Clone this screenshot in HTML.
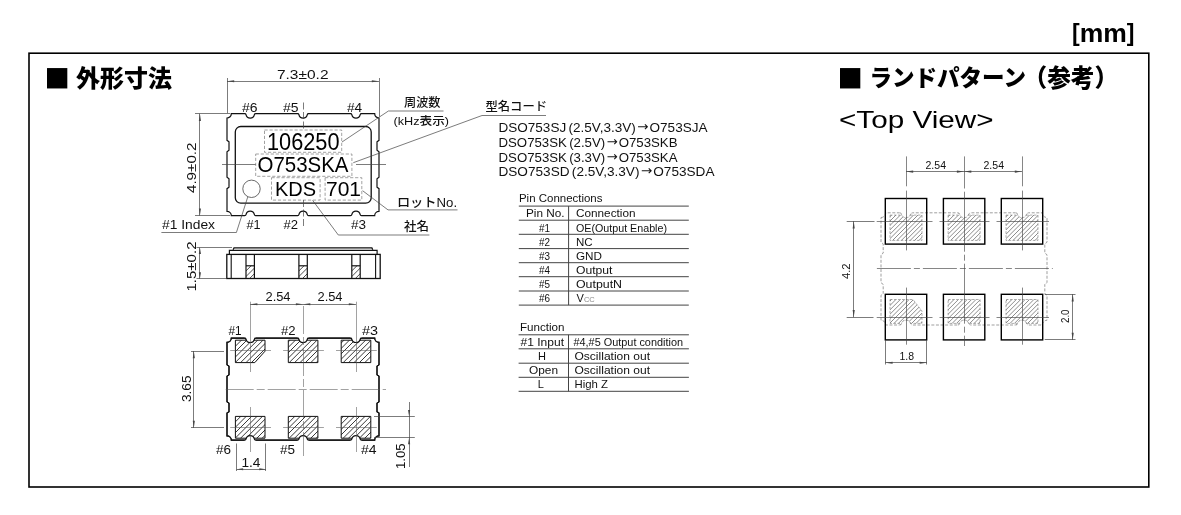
<!DOCTYPE html>
<html lang="ja">
<head>
<meta charset="utf-8">
<title>DSO753 外形寸法 / ランドパターン</title>
<style>
html,body{margin:0;padding:0;background:#fff;}
body{width:1181px;height:515px;overflow:hidden;}
svg{display:block;will-change:transform;font-family:"Liberation Sans","Noto Sans CJK JP",sans-serif;}
text{white-space:pre;}
</style>
</head>
<body>
<svg width="1181" height="515" viewBox="0 0 1181 515">
<defs><clipPath id="cp0"><path d="M246.00,265.8 H254.40 V278.5 H246.00 Z"/></clipPath><clipPath id="cp1"><path d="M298.90,265.8 H307.30 V278.5 H298.90 Z"/></clipPath><clipPath id="cp2"><path d="M351.80,265.8 H360.20 V278.5 H351.80 Z"/></clipPath><clipPath id="cp3"><path d="M235.4,340.2 L265.0,340.2 L265.0,351.20 L254.80,362.6 L235.4,362.6 Z"/></clipPath><clipPath id="cp4"><path d="M235.4,416.4 L265.0,416.4 L265.0,438.2 L235.4,438.2 Z"/></clipPath><clipPath id="cp5"><path d="M288.3,340.2 L317.9,340.2 L317.9,362.6 L288.3,362.6 Z"/></clipPath><clipPath id="cp6"><path d="M288.3,416.4 L317.9,416.4 L317.9,438.2 L288.3,438.2 Z"/></clipPath><clipPath id="cp7"><path d="M341.2,340.2 L370.8,340.2 L370.8,362.6 L341.2,362.6 Z"/></clipPath><clipPath id="cp8"><path d="M341.2,416.4 L370.8,416.4 L370.8,438.2 L341.2,438.2 Z"/></clipPath><clipPath id="cp9"><path d="M890.00,215.10 L922.00,215.10 L922.00,240.40 L890.00,240.40 Z"/></clipPath><clipPath id="cp10"><path d="M890.00,299.50 L913.00,299.50 L922.00,311.00 L922.00,323.40 L890.00,323.40 Z"/></clipPath><clipPath id="cp11"><path d="M948.11,215.10 L980.10,215.10 L980.10,240.40 L948.11,240.40 Z"/></clipPath><clipPath id="cp12"><path d="M948.11,299.50 L980.10,299.50 L980.10,323.40 L948.11,323.40 Z"/></clipPath><clipPath id="cp13"><path d="M1006.00,215.10 L1037.99,215.10 L1037.99,240.40 L1006.00,240.40 Z"/></clipPath><clipPath id="cp14"><path d="M1006.00,299.50 L1037.99,299.50 L1037.99,323.40 L1006.00,323.40 Z"/></clipPath></defs>
<rect x="0" y="0" width="1181" height="515" fill="#fff"/>
<rect x="29" y="53.2" width="1119.8" height="433.8" fill="none" stroke="#000" stroke-width="1.6"/>
<text id="t0" x="1071.95" y="42.20" font-size="26.5" textLength="62.57" lengthAdjust="spacingAndGlyphs" font-weight="bold" fill="#000"><tspan font-size="23.1" dy="-0.8">[</tspan><tspan font-size="26.5" dy="0.8">mm</tspan><tspan font-size="23.1" dy="-0.8">]</tspan></text>
<text id="t1" x="44.53" y="90.70" font-size="42.2" textLength="25.33" lengthAdjust="spacingAndGlyphs" fill="#000">■</text>
<text id="t2" x="76.00" y="86.80" font-size="24" textLength="96.01" lengthAdjust="spacingAndGlyphs" font-weight="900" fill="#000">外形寸法</text>
<text id="t3" x="837.53" y="90.70" font-size="42.2" textLength="25.33" lengthAdjust="spacingAndGlyphs" fill="#000">■</text>
<text id="t4" x="869.45" y="86.30" font-size="23" textLength="156.57" lengthAdjust="spacingAndGlyphs" font-weight="900" fill="#000">ランドパターン</text>
<text id="t5" x="1023.56" y="86.80" font-size="24.5" textLength="94.54" lengthAdjust="spacingAndGlyphs" font-weight="900" fill="#000">（参考）</text>
<text id="t6" x="838.98" y="128.20" font-size="24.5" textLength="154.54" lengthAdjust="spacingAndGlyphs" fill="#000">&lt;Top View&gt;</text>
<path d="M227.00,118.00 A4.30,4.30 0 0 0 231.30,113.70 L244.70,113.70 Q245.80,113.70 246.00,114.70 A4.29,4.29 0 0 0 254.40,114.70 Q254.60,113.70 255.70,113.70 L297.60,113.70 Q298.70,113.70 298.90,114.70 A4.29,4.29 0 0 0 307.30,114.70 Q307.50,113.70 308.60,113.70 L350.50,113.70 Q351.60,113.70 351.80,114.70 A4.29,4.29 0 0 0 360.20,114.70 Q360.40,113.70 361.50,113.70 L374.70,113.70 A4.30,4.30 0 0 0 379.00,118.00 L379.00,140.35 L377.00,141.85 L377.00,150.25 L379.00,151.75 L379.00,177.25 L377.00,178.75 L377.00,187.15 L379.00,188.65 L379.00,211.30 A4.30,4.30 0 0 0 374.70,215.60 L361.50,215.60 Q360.40,215.60 360.20,214.60 A4.29,4.29 0 0 0 351.80,214.60 Q351.60,215.60 350.50,215.60 L308.60,215.60 Q307.50,215.60 307.30,214.60 A4.29,4.29 0 0 0 298.90,214.60 Q298.70,215.60 297.60,215.60 L255.70,215.60 Q254.60,215.60 254.40,214.60 A4.29,4.29 0 0 0 246.00,214.60 Q245.80,215.60 244.70,215.60 L231.30,215.60 A4.30,4.30 0 0 0 227.00,211.30 L227.00,188.65 L229.00,187.15 L229.00,178.75 L227.00,177.25 L227.00,151.75 L229.00,150.25 L229.00,141.85 L227.00,140.35 Z" fill="none" stroke="#111" stroke-width="1.2"/>
<rect x="235.3" y="126.5" width="135.9" height="76.7" rx="5.5" ry="5.5" fill="none" stroke="#111" stroke-width="1.3"/>
<circle cx="251.5" cy="188.8" r="8.7" fill="none" stroke="#444" stroke-width="0.8"/>
<rect x="264.5" y="130" width="77.20" height="22.30" fill="none" stroke="#8a8a8a" stroke-width="0.8" stroke-dasharray="3.2 1.8"/>
<rect x="255.7" y="154" width="96.20" height="22.30" fill="none" stroke="#8a8a8a" stroke-width="0.8" stroke-dasharray="3.2 1.8"/>
<rect x="271.5" y="177.7" width="48.60" height="22.40" fill="none" stroke="#8a8a8a" stroke-width="0.8" stroke-dasharray="3.2 1.8"/>
<rect x="325.1" y="177.7" width="36.70" height="22.40" fill="none" stroke="#8a8a8a" stroke-width="0.8" stroke-dasharray="3.2 1.8"/>
<text id="t7" x="266.95" y="149.80" font-size="23.3" textLength="72.58" lengthAdjust="spacingAndGlyphs" fill="#000">106250</text>
<text id="t8" x="257.49" y="172.40" font-size="22" textLength="91.02" lengthAdjust="spacingAndGlyphs" fill="#000">O753SKA</text>
<text id="t9" x="274.95" y="196.20" font-size="20.5" textLength="41.11" lengthAdjust="spacingAndGlyphs" fill="#000">KDS</text>
<text id="t10" x="325.96" y="196.20" font-size="20.5" textLength="35.08" lengthAdjust="spacingAndGlyphs" fill="#000">701</text>
<line x1="222.00" y1="164.50" x2="255.70" y2="164.50" stroke="#444" stroke-width="0.7"/>
<line x1="356.00" y1="164.50" x2="386.00" y2="164.50" stroke="#444" stroke-width="0.7"/>
<line x1="303.50" y1="102.50" x2="303.50" y2="130.00" stroke="#444" stroke-width="0.7" stroke-dasharray="7 2.5"/>
<line x1="303.50" y1="200.00" x2="303.50" y2="228.50" stroke="#444" stroke-width="0.7" stroke-dasharray="7 2.5"/>
<text id="t11" x="241.96" y="111.60" font-size="12.4" textLength="15.58" lengthAdjust="spacingAndGlyphs" fill="#111">#6</text>
<text id="t12" x="282.97" y="111.60" font-size="12.4" textLength="15.53" lengthAdjust="spacingAndGlyphs" fill="#111">#5</text>
<text id="t13" x="346.91" y="111.60" font-size="12.4" textLength="15.18" lengthAdjust="spacingAndGlyphs" fill="#111">#4</text>
<text id="t14" x="246.43" y="229.00" font-size="12.4" textLength="14.14" lengthAdjust="spacingAndGlyphs" fill="#111">#1</text>
<text id="t15" x="283.50" y="229.00" font-size="12.4" textLength="14.58" lengthAdjust="spacingAndGlyphs" fill="#111">#2</text>
<text id="t16" x="350.97" y="229.00" font-size="12.4" textLength="15.04" lengthAdjust="spacingAndGlyphs" fill="#111">#3</text>
<line x1="227.50" y1="78.00" x2="227.50" y2="113.20" stroke="#444" stroke-width="0.7"/>
<line x1="379.50" y1="78.00" x2="379.50" y2="116.70" stroke="#444" stroke-width="0.7"/>
<line x1="227.00" y1="81.50" x2="379.00" y2="81.50" stroke="#444" stroke-width="0.7"/>
<polygon points="227.00,81.30 234.20,80.25 234.20,82.35" fill="#444"/>
<polygon points="379.00,81.30 371.80,82.35 371.80,80.25" fill="#444"/>
<text id="t17" x="276.98" y="78.70" font-size="12.5" textLength="51.54" lengthAdjust="spacingAndGlyphs" fill="#111">7.3±0.2</text>
<line x1="195.00" y1="113.50" x2="230.00" y2="113.50" stroke="#444" stroke-width="0.7"/>
<line x1="195.00" y1="215.50" x2="230.00" y2="215.50" stroke="#444" stroke-width="0.7"/>
<line x1="199.50" y1="113.70" x2="199.50" y2="215.60" stroke="#444" stroke-width="0.7"/>
<polygon points="199.90,113.70 200.95,120.90 198.85,120.90" fill="#444"/>
<polygon points="199.90,215.60 198.85,208.40 200.95,208.40" fill="#444"/>
<text id="t18" x="196.40" y="193.02" font-size="12.5" textLength="50.53" lengthAdjust="spacingAndGlyphs" transform="rotate(-90 196.40 193.02)" fill="#111">4.9±0.2</text>
<polyline points="342.00,142.00 388.40,111.00 443.50,111.00" fill="none" stroke="#444" stroke-width="0.7"/>
<polyline points="353.30,162.70 482.00,115.50 546.00,115.50" fill="none" stroke="#444" stroke-width="0.7"/>
<polyline points="362.60,190.70 388.00,209.90 457.50,209.90" fill="none" stroke="#444" stroke-width="0.7"/>
<polyline points="312.60,200.30 338.30,235.00 429.40,235.00" fill="none" stroke="#444" stroke-width="0.7"/>
<polyline points="247.80,196.80 236.40,232.50 161.40,232.50" fill="none" stroke="#444" stroke-width="0.7"/>
<text id="t19" x="403.98" y="107.20" font-size="12.5" textLength="36.54" lengthAdjust="spacingAndGlyphs" font-weight="500" fill="#111">周波数</text>
<text id="t20" x="393.47" y="124.60" font-size="11.5" textLength="55.57" lengthAdjust="spacingAndGlyphs" font-weight="500" fill="#111">(kHz表示)</text>
<text id="t21" x="485.49" y="111.00" font-size="12" textLength="61.56" lengthAdjust="spacingAndGlyphs" font-weight="500" fill="#111">型名コード</text>
<text id="t22" x="396.93" y="207.00" font-size="12.5" textLength="60.13" lengthAdjust="spacingAndGlyphs" font-weight="500" fill="#111">ロットNo.</text>
<text id="t23" x="404.00" y="231.00" font-size="12.5" textLength="25.04" lengthAdjust="spacingAndGlyphs" font-weight="500" fill="#111">社名</text>
<text id="t24" x="162.00" y="229.00" font-size="12.4" textLength="53.01" lengthAdjust="spacingAndGlyphs" fill="#111">#1 Index</text>
<path d="M233.1,249.8 L234.0,247.9 L371.9,247.9 L372.8,249.8" fill="none" stroke="#111" stroke-width="1.25"/>
<path d="M229.4,254.4 L229.4,250.3 L377.1,250.3 L377.1,254.4" fill="none" stroke="#111" stroke-width="1.2"/>
<rect x="226.8" y="254.4" width="153.4" height="24.1" fill="none" stroke="#111" stroke-width="1.3"/>
<line x1="231.20" y1="254.40" x2="231.20" y2="278.50" stroke="#111" stroke-width="1.1"/>
<line x1="375.60" y1="254.40" x2="375.60" y2="278.50" stroke="#111" stroke-width="1.1"/>
<path clip-path="url(#cp0)" d="M237.40,279.50 L252.10,264.80 M243.00,279.50 L257.70,264.80 M248.60,279.50 L263.30,264.80" fill="none" stroke="#222" stroke-width="0.8"/>
<line x1="246.00" y1="254.40" x2="246.00" y2="278.50" stroke="#111" stroke-width="1.2"/>
<line x1="254.40" y1="254.40" x2="254.40" y2="278.50" stroke="#111" stroke-width="1.2"/>
<line x1="246.00" y1="265.80" x2="254.40" y2="265.80" stroke="#111" stroke-width="1.2"/>
<path clip-path="url(#cp1)" d="M290.30,279.50 L305.00,264.80 M295.90,279.50 L310.60,264.80 M301.50,279.50 L316.20,264.80" fill="none" stroke="#222" stroke-width="0.8"/>
<line x1="298.90" y1="254.40" x2="298.90" y2="278.50" stroke="#111" stroke-width="1.2"/>
<line x1="307.30" y1="254.40" x2="307.30" y2="278.50" stroke="#111" stroke-width="1.2"/>
<line x1="298.90" y1="265.80" x2="307.30" y2="265.80" stroke="#111" stroke-width="1.2"/>
<path clip-path="url(#cp2)" d="M343.20,279.50 L357.90,264.80 M348.80,279.50 L363.50,264.80 M354.40,279.50 L369.10,264.80" fill="none" stroke="#222" stroke-width="0.8"/>
<line x1="351.80" y1="254.40" x2="351.80" y2="278.50" stroke="#111" stroke-width="1.2"/>
<line x1="360.20" y1="254.40" x2="360.20" y2="278.50" stroke="#111" stroke-width="1.2"/>
<line x1="351.80" y1="265.80" x2="360.20" y2="265.80" stroke="#111" stroke-width="1.2"/>
<line x1="196.50" y1="247.50" x2="232.00" y2="247.50" stroke="#444" stroke-width="0.7"/>
<line x1="196.50" y1="278.50" x2="226.00" y2="278.50" stroke="#444" stroke-width="0.7"/>
<line x1="199.50" y1="247.60" x2="199.50" y2="278.80" stroke="#444" stroke-width="0.7"/>
<polygon points="199.90,247.60 200.95,254.10 198.85,254.10" fill="#444"/>
<polygon points="199.90,278.80 198.85,272.30 200.95,272.30" fill="#444"/>
<text id="t25" x="196.40" y="291.54" font-size="12.5" textLength="50.06" lengthAdjust="spacingAndGlyphs" transform="rotate(-90 196.40 291.54)" fill="#111">1.5±0.2</text>
<path d="M227.00,342.40 A4.30,4.30 0 0 0 231.30,338.10 L244.70,338.10 Q245.80,338.10 246.00,339.10 A4.29,4.29 0 0 0 254.40,339.10 Q254.60,338.10 255.70,338.10 L297.60,338.10 Q298.70,338.10 298.90,339.10 A4.29,4.29 0 0 0 307.30,339.10 Q307.50,338.10 308.60,338.10 L350.50,338.10 Q351.60,338.10 351.80,339.10 A4.29,4.29 0 0 0 360.20,339.10 Q360.40,338.10 361.50,338.10 L374.70,338.10 A4.30,4.30 0 0 0 379.00,342.40 L379.00,364.80 L377.00,366.30 L377.00,374.70 L379.00,376.20 L379.00,401.70 L377.00,403.20 L377.00,411.60 L379.00,413.10 L379.00,435.80 A4.30,4.30 0 0 0 374.70,440.10 L361.50,440.10 Q360.40,440.10 360.20,439.10 A4.29,4.29 0 0 0 351.80,439.10 Q351.60,440.10 350.50,440.10 L308.60,440.10 Q307.50,440.10 307.30,439.10 A4.29,4.29 0 0 0 298.90,439.10 Q298.70,440.10 297.60,440.10 L255.70,440.10 Q254.60,440.10 254.40,439.10 A4.29,4.29 0 0 0 246.00,439.10 Q245.80,440.10 244.70,440.10 L231.30,440.10 A4.30,4.30 0 0 0 227.00,435.80 L227.00,413.10 L229.00,411.60 L229.00,403.20 L227.00,401.70 L227.00,376.20 L229.00,374.70 L229.00,366.30 L227.00,364.80 Z" fill="none" stroke="#111" stroke-width="1.15"/>
<path d="M235.4,340.2 L265.0,340.2 L265.0,351.20 L254.80,362.6 L235.4,362.6 Z" fill="#fff" stroke="none"/>
<path clip-path="url(#cp3)" d="M212.60,363.60 L237.00,339.20 M218.00,363.60 L242.40,339.20 M223.40,363.60 L247.80,339.20 M228.80,363.60 L253.20,339.20 M234.20,363.60 L258.60,339.20 M239.60,363.60 L264.00,339.20 M245.00,363.60 L269.40,339.20 M250.40,363.60 L274.80,339.20 M255.80,363.60 L280.20,339.20 M261.20,363.60 L285.60,339.20" fill="none" stroke="#222" stroke-width="0.9"/>
<path d="M235.4,340.2 L265.0,340.2 L265.0,351.20 L254.80,362.6 L235.4,362.6 Z" fill="none" stroke="#111" stroke-width="1.0"/>
<path d="M235.4,416.4 L265.0,416.4 L265.0,438.2 L235.4,438.2 Z" fill="#fff" stroke="none"/>
<path clip-path="url(#cp4)" d="M212.60,439.20 L236.40,415.40 M218.00,439.20 L241.80,415.40 M223.40,439.20 L247.20,415.40 M228.80,439.20 L252.60,415.40 M234.20,439.20 L258.00,415.40 M239.60,439.20 L263.40,415.40 M245.00,439.20 L268.80,415.40 M250.40,439.20 L274.20,415.40 M255.80,439.20 L279.60,415.40 M261.20,439.20 L285.00,415.40" fill="none" stroke="#222" stroke-width="0.9"/>
<path d="M235.4,416.4 L265.0,416.4 L265.0,438.2 L235.4,438.2 Z" fill="none" stroke="#111" stroke-width="1.0"/>
<path d="M288.3,340.2 L317.9,340.2 L317.9,362.6 L288.3,362.6 Z" fill="#fff" stroke="none"/>
<path clip-path="url(#cp5)" d="M266.60,363.60 L291.00,339.20 M272.00,363.60 L296.40,339.20 M277.40,363.60 L301.80,339.20 M282.80,363.60 L307.20,339.20 M288.20,363.60 L312.60,339.20 M293.60,363.60 L318.00,339.20 M299.00,363.60 L323.40,339.20 M304.40,363.60 L328.80,339.20 M309.80,363.60 L334.20,339.20 M315.20,363.60 L339.60,339.20" fill="none" stroke="#222" stroke-width="0.9"/>
<path d="M288.3,340.2 L317.9,340.2 L317.9,362.6 L288.3,362.6 Z" fill="none" stroke="#111" stroke-width="1.0"/>
<path d="M288.3,416.4 L317.9,416.4 L317.9,438.2 L288.3,438.2 Z" fill="#fff" stroke="none"/>
<path clip-path="url(#cp6)" d="M266.60,439.20 L290.40,415.40 M272.00,439.20 L295.80,415.40 M277.40,439.20 L301.20,415.40 M282.80,439.20 L306.60,415.40 M288.20,439.20 L312.00,415.40 M293.60,439.20 L317.40,415.40 M299.00,439.20 L322.80,415.40 M304.40,439.20 L328.20,415.40 M309.80,439.20 L333.60,415.40 M315.20,439.20 L339.00,415.40" fill="none" stroke="#222" stroke-width="0.9"/>
<path d="M288.3,416.4 L317.9,416.4 L317.9,438.2 L288.3,438.2 Z" fill="none" stroke="#111" stroke-width="1.0"/>
<path d="M341.2,340.2 L370.8,340.2 L370.8,362.6 L341.2,362.6 Z" fill="#fff" stroke="none"/>
<path clip-path="url(#cp7)" d="M320.60,363.60 L345.00,339.20 M326.00,363.60 L350.40,339.20 M331.40,363.60 L355.80,339.20 M336.80,363.60 L361.20,339.20 M342.20,363.60 L366.60,339.20 M347.60,363.60 L372.00,339.20 M353.00,363.60 L377.40,339.20 M358.40,363.60 L382.80,339.20 M363.80,363.60 L388.20,339.20 M369.20,363.60 L393.60,339.20" fill="none" stroke="#222" stroke-width="0.9"/>
<path d="M341.2,340.2 L370.8,340.2 L370.8,362.6 L341.2,362.6 Z" fill="none" stroke="#111" stroke-width="1.0"/>
<path d="M341.2,416.4 L370.8,416.4 L370.8,438.2 L341.2,438.2 Z" fill="#fff" stroke="none"/>
<path clip-path="url(#cp8)" d="M320.60,439.20 L344.40,415.40 M326.00,439.20 L349.80,415.40 M331.40,439.20 L355.20,415.40 M336.80,439.20 L360.60,415.40 M342.20,439.20 L366.00,415.40 M347.60,439.20 L371.40,415.40 M353.00,439.20 L376.80,415.40 M358.40,439.20 L382.20,415.40 M363.80,439.20 L387.60,415.40 M369.20,439.20 L393.00,415.40" fill="none" stroke="#222" stroke-width="0.9"/>
<path d="M341.2,416.4 L370.8,416.4 L370.8,438.2 L341.2,438.2 Z" fill="none" stroke="#111" stroke-width="1.0"/>
<path d="M244.20,337.20 L244.70,338.10 Q245.80,338.10 246.00,339.10 A4.29,4.29 0 0 0 254.40,339.10 Q254.60,338.10 255.70,338.10 L256.20,337.20 Z" fill="#fff" stroke="none"/>
<path d="M244.20,441.00 L244.70,440.10 Q245.80,440.10 246.00,439.10 A4.29,4.29 0 0 1 254.40,439.10 Q254.60,440.10 255.70,440.10 L256.20,441.00 Z" fill="#fff" stroke="none"/>
<path d="M297.10,337.20 L297.60,338.10 Q298.70,338.10 298.90,339.10 A4.29,4.29 0 0 0 307.30,339.10 Q307.50,338.10 308.60,338.10 L309.10,337.20 Z" fill="#fff" stroke="none"/>
<path d="M297.10,441.00 L297.60,440.10 Q298.70,440.10 298.90,439.10 A4.29,4.29 0 0 1 307.30,439.10 Q307.50,440.10 308.60,440.10 L309.10,441.00 Z" fill="#fff" stroke="none"/>
<path d="M350.00,337.20 L350.50,338.10 Q351.60,338.10 351.80,339.10 A4.29,4.29 0 0 0 360.20,339.10 Q360.40,338.10 361.50,338.10 L362.00,337.20 Z" fill="#fff" stroke="none"/>
<path d="M350.00,441.00 L350.50,440.10 Q351.60,440.10 351.80,439.10 A4.29,4.29 0 0 1 360.20,439.10 Q360.40,440.10 361.50,440.10 L362.00,441.00 Z" fill="#fff" stroke="none"/>
<path d="M227.00,342.40 A4.30,4.30 0 0 0 231.30,338.10 L244.70,338.10 Q245.80,338.10 246.00,339.10 A4.29,4.29 0 0 0 254.40,339.10 Q254.60,338.10 255.70,338.10 L297.60,338.10 Q298.70,338.10 298.90,339.10 A4.29,4.29 0 0 0 307.30,339.10 Q307.50,338.10 308.60,338.10 L350.50,338.10 Q351.60,338.10 351.80,339.10 A4.29,4.29 0 0 0 360.20,339.10 Q360.40,338.10 361.50,338.10 L374.70,338.10 A4.30,4.30 0 0 0 379.00,342.40 L379.00,364.80 L377.00,366.30 L377.00,374.70 L379.00,376.20 L379.00,401.70 L377.00,403.20 L377.00,411.60 L379.00,413.10 L379.00,435.80 A4.30,4.30 0 0 0 374.70,440.10 L361.50,440.10 Q360.40,440.10 360.20,439.10 A4.29,4.29 0 0 0 351.80,439.10 Q351.60,440.10 350.50,440.10 L308.60,440.10 Q307.50,440.10 307.30,439.10 A4.29,4.29 0 0 0 298.90,439.10 Q298.70,440.10 297.60,440.10 L255.70,440.10 Q254.60,440.10 254.40,439.10 A4.29,4.29 0 0 0 246.00,439.10 Q245.80,440.10 244.70,440.10 L231.30,440.10 A4.30,4.30 0 0 0 227.00,435.80 L227.00,413.10 L229.00,411.60 L229.00,403.20 L227.00,401.70 L227.00,376.20 L229.00,374.70 L229.00,366.30 L227.00,364.80 Z" fill="none" stroke="#111" stroke-width="1.15"/>
<line x1="225.70" y1="389.50" x2="386.00" y2="389.50" stroke="#555" stroke-width="0.55" stroke-dasharray="28 3 8 3"/>
<line x1="303.50" y1="306.00" x2="303.50" y2="456.00" stroke="#555" stroke-width="0.55" stroke-dasharray="28 3 8 3"/>
<line x1="250.50" y1="301.70" x2="250.50" y2="372.00" stroke="#555" stroke-width="0.55"/>
<line x1="250.50" y1="407.00" x2="250.50" y2="452.00" stroke="#555" stroke-width="0.55"/>
<line x1="356.50" y1="301.70" x2="356.50" y2="372.00" stroke="#555" stroke-width="0.55"/>
<line x1="356.50" y1="407.00" x2="356.50" y2="452.00" stroke="#555" stroke-width="0.55"/>
<line x1="230.20" y1="350.50" x2="271.00" y2="350.50" stroke="#555" stroke-width="0.55"/>
<line x1="230.20" y1="427.50" x2="271.00" y2="427.50" stroke="#555" stroke-width="0.55"/>
<line x1="283.10" y1="350.50" x2="323.90" y2="350.50" stroke="#555" stroke-width="0.55"/>
<line x1="283.10" y1="427.50" x2="323.90" y2="427.50" stroke="#555" stroke-width="0.55"/>
<line x1="336.00" y1="350.50" x2="376.80" y2="350.50" stroke="#555" stroke-width="0.55"/>
<line x1="336.00" y1="427.50" x2="376.80" y2="427.50" stroke="#555" stroke-width="0.55"/>
<line x1="250.20" y1="304.50" x2="356.00" y2="304.50" stroke="#444" stroke-width="0.7"/>
<polygon points="250.20,304.30 257.40,303.25 257.40,305.35" fill="#444"/>
<polygon points="303.10,304.30 295.90,305.35 295.90,303.25" fill="#444"/>
<polygon points="303.10,304.30 310.30,303.25 310.30,305.35" fill="#444"/>
<polygon points="356.00,304.30 348.80,305.35 348.80,303.25" fill="#444"/>
<text id="t26" x="265.50" y="301.10" font-size="12" textLength="25.02" lengthAdjust="spacingAndGlyphs" fill="#111">2.54</text>
<text id="t27" x="317.47" y="301.10" font-size="12" textLength="25.07" lengthAdjust="spacingAndGlyphs" fill="#111">2.54</text>
<text id="t28" x="228.45" y="334.90" font-size="12.4" textLength="13.11" lengthAdjust="spacingAndGlyphs" fill="#111">#1</text>
<text id="t29" x="280.95" y="334.90" font-size="12.4" textLength="14.60" lengthAdjust="spacingAndGlyphs" fill="#111">#2</text>
<text id="t30" x="362.00" y="334.90" font-size="12.4" textLength="16.04" lengthAdjust="spacingAndGlyphs" fill="#111">#3</text>
<text id="t31" x="215.97" y="453.70" font-size="12.4" textLength="15.04" lengthAdjust="spacingAndGlyphs" fill="#111">#6</text>
<text id="t32" x="280.00" y="453.70" font-size="12.4" textLength="15.04" lengthAdjust="spacingAndGlyphs" fill="#111">#5</text>
<text id="t33" x="361.00" y="453.70" font-size="12.4" textLength="15.53" lengthAdjust="spacingAndGlyphs" fill="#111">#4</text>
<line x1="191.00" y1="351.50" x2="224.00" y2="351.50" stroke="#444" stroke-width="0.7"/>
<line x1="191.00" y1="427.50" x2="224.00" y2="427.50" stroke="#444" stroke-width="0.7"/>
<line x1="193.50" y1="351.00" x2="193.50" y2="427.90" stroke="#444" stroke-width="0.7"/>
<polygon points="193.80,351.00 194.85,358.20 192.75,358.20" fill="#444"/>
<polygon points="193.80,427.90 192.75,420.70 194.85,420.70" fill="#444"/>
<text id="t34" x="191.50" y="402.04" font-size="12.5" textLength="26.58" lengthAdjust="spacingAndGlyphs" transform="rotate(-90 191.50 402.04)" fill="#111">3.65</text>
<line x1="236.50" y1="443.50" x2="236.50" y2="471.00" stroke="#444" stroke-width="0.7"/>
<line x1="265.50" y1="443.50" x2="265.50" y2="471.00" stroke="#444" stroke-width="0.7"/>
<line x1="236.60" y1="469.50" x2="265.80" y2="469.50" stroke="#444" stroke-width="0.7"/>
<polygon points="236.60,469.30 243.10,468.25 243.10,470.35" fill="#444"/>
<polygon points="265.80,469.30 259.30,470.35 259.30,468.25" fill="#444"/>
<text id="t35" x="241.44" y="466.80" font-size="12.5" textLength="19.06" lengthAdjust="spacingAndGlyphs" fill="#111">1.4</text>
<line x1="374.00" y1="416.50" x2="414.80" y2="416.50" stroke="#444" stroke-width="0.7"/>
<line x1="374.00" y1="437.50" x2="414.80" y2="437.50" stroke="#444" stroke-width="0.7"/>
<line x1="409.50" y1="402.00" x2="409.50" y2="467.00" stroke="#444" stroke-width="0.7"/>
<polygon points="409.10,416.40 408.05,409.90 410.15,409.90" fill="#444"/>
<polygon points="409.10,437.80 410.15,444.30 408.05,444.30" fill="#444"/>
<text id="t36" x="404.90" y="469.05" font-size="12.5" textLength="25.58" lengthAdjust="spacingAndGlyphs" transform="rotate(-90 404.90 469.05)" fill="#111">1.05</text>
<text id="t37" x="498.49" y="131.90" font-size="12.8" textLength="209.01" lengthAdjust="spacingAndGlyphs" fill="#111">DSO753SJ<tspan dx="2.2">(</tspan>2.5V,3.3V)<tspan font-family="DejaVu Sans" dy="-0.5" dx="1.5">→</tspan><tspan dy="0.5" dx="0.8">O753SJA</tspan></text>
<text id="t38" x="498.49" y="146.70" font-size="12.8" textLength="179.01" lengthAdjust="spacingAndGlyphs" fill="#111">DSO753SK<tspan dx="2.2">(</tspan>2.5V)<tspan font-family="DejaVu Sans" dy="-0.5" dx="1.5">→</tspan><tspan dy="0.5" dx="0.8">O753SKB</tspan></text>
<text id="t39" x="498.50" y="161.50" font-size="12.8" textLength="179.00" lengthAdjust="spacingAndGlyphs" fill="#111">DSO753SK<tspan dx="2.2">(</tspan>3.3V)<tspan font-family="DejaVu Sans" dy="-0.5" dx="1.5">→</tspan><tspan dy="0.5" dx="0.8">O753SKA</tspan></text>
<text id="t40" x="498.49" y="175.80" font-size="12.8" textLength="216.01" lengthAdjust="spacingAndGlyphs" fill="#111">DSO753SD<tspan dx="2.2">(</tspan>2.5V,3.3V)<tspan font-family="DejaVu Sans" dy="-0.5" dx="1.5">→</tspan><tspan dy="0.5" dx="0.8">O753SDA</tspan></text>
<text id="t41" x="518.98" y="202.00" font-size="11" textLength="83.52" lengthAdjust="spacingAndGlyphs" fill="#111">Pin Connections</text>
<line x1="518.80" y1="206.10" x2="688.80" y2="206.10" stroke="#444" stroke-width="1.0"/>
<line x1="518.80" y1="220.20" x2="688.80" y2="220.20" stroke="#444" stroke-width="1.0"/>
<line x1="518.80" y1="234.30" x2="688.80" y2="234.30" stroke="#444" stroke-width="1.0"/>
<line x1="518.80" y1="248.60" x2="688.80" y2="248.60" stroke="#444" stroke-width="1.0"/>
<line x1="518.80" y1="262.70" x2="688.80" y2="262.70" stroke="#444" stroke-width="1.0"/>
<line x1="518.80" y1="276.70" x2="688.80" y2="276.70" stroke="#444" stroke-width="1.0"/>
<line x1="518.80" y1="291.00" x2="688.80" y2="291.00" stroke="#444" stroke-width="1.0"/>
<line x1="518.80" y1="305.10" x2="688.80" y2="305.10" stroke="#444" stroke-width="1.0"/>
<line x1="568.60" y1="206.10" x2="568.60" y2="305.10" stroke="#444" stroke-width="1.0"/>
<text id="t42" x="525.97" y="217.40" font-size="11" textLength="38.57" lengthAdjust="spacingAndGlyphs" fill="#111">Pin No.</text>
<text id="t43" x="575.99" y="217.40" font-size="11" textLength="59.53" lengthAdjust="spacingAndGlyphs" fill="#111">Connection</text>
<text id="t44" x="539.00" y="231.60" font-size="11" textLength="11.00" lengthAdjust="spacingAndGlyphs" fill="#111">#1</text>
<text id="t45" x="575.99" y="231.60" font-size="11" textLength="91.03" lengthAdjust="spacingAndGlyphs" fill="#111">OE(Output Enable)</text>
<text id="t46" x="539.00" y="245.70" font-size="11" textLength="11.00" lengthAdjust="spacingAndGlyphs" fill="#111">#2</text>
<text id="t47" x="575.94" y="245.70" font-size="11" textLength="16.64" lengthAdjust="spacingAndGlyphs" fill="#111">NC</text>
<text id="t48" x="539.00" y="260.00" font-size="11" textLength="11.00" lengthAdjust="spacingAndGlyphs" fill="#111">#3</text>
<text id="t49" x="575.98" y="260.00" font-size="11" textLength="26.04" lengthAdjust="spacingAndGlyphs" fill="#111">GND</text>
<text id="t50" x="539.00" y="274.10" font-size="11" textLength="11.00" lengthAdjust="spacingAndGlyphs" fill="#111">#4</text>
<text id="t51" x="575.98" y="274.10" font-size="11" textLength="36.52" lengthAdjust="spacingAndGlyphs" fill="#111">Output</text>
<text id="t52" x="539.00" y="288.10" font-size="11" textLength="11.00" lengthAdjust="spacingAndGlyphs" fill="#111">#5</text>
<text id="t53" x="575.98" y="288.10" font-size="11" textLength="46.06" lengthAdjust="spacingAndGlyphs" fill="#111">OutputN</text>
<text id="t54" x="539.00" y="302.40" font-size="11" textLength="11.00" lengthAdjust="spacingAndGlyphs" fill="#111">#6</text>
<text x="576.6" y="302.40" font-size="11" fill="#111">V<tspan font-size="7.5" fill="#888">CC</tspan></text>
<text id="t55" x="519.98" y="331.00" font-size="11" textLength="44.52" lengthAdjust="spacingAndGlyphs" fill="#111">Function</text>
<line x1="518.60" y1="334.80" x2="688.90" y2="334.80" stroke="#444" stroke-width="1.0"/>
<line x1="518.60" y1="348.80" x2="688.90" y2="348.80" stroke="#444" stroke-width="1.0"/>
<line x1="518.60" y1="363.20" x2="688.90" y2="363.20" stroke="#444" stroke-width="1.0"/>
<line x1="518.60" y1="377.30" x2="688.90" y2="377.30" stroke="#444" stroke-width="1.0"/>
<line x1="518.60" y1="391.30" x2="688.90" y2="391.30" stroke="#444" stroke-width="1.0"/>
<line x1="568.50" y1="334.80" x2="568.50" y2="391.30" stroke="#444" stroke-width="1.0"/>
<text id="t56" x="520.48" y="345.80" font-size="11" textLength="43.54" lengthAdjust="spacingAndGlyphs" fill="#111">#1 Input</text>
<text id="t57" x="573.49" y="345.80" font-size="10.5" textLength="109.52" lengthAdjust="spacingAndGlyphs" fill="#111">#4,#5 Output condition</text>
<text id="t58" x="542.00" y="360.30" font-size="11" text-anchor="middle" fill="#111">H</text>
<text id="t59" x="574.50" y="360.30" font-size="11" textLength="75.51" lengthAdjust="spacingAndGlyphs" fill="#111">Oscillation out</text>
<text id="t60" x="528.99" y="374.20" font-size="11" textLength="29.04" lengthAdjust="spacingAndGlyphs" fill="#111">Open</text>
<text id="t61" x="574.50" y="374.00" font-size="11" textLength="75.51" lengthAdjust="spacingAndGlyphs" fill="#111">Oscillation out</text>
<text id="t62" x="540.80" y="388.30" font-size="11" text-anchor="middle" fill="#111">L</text>
<text id="t63" x="574.47" y="388.30" font-size="11" textLength="33.52" lengthAdjust="spacingAndGlyphs" fill="#111">High Z</text>
<path d="M881.00,217.52 A4.72,4.72 0 0 0 885.72,212.80 L899.97,212.80 Q901.17,212.80 901.39,213.90 A4.71,4.71 0 0 0 910.61,213.90 Q910.83,212.80 912.03,212.80 L958.07,212.80 Q959.27,212.80 959.49,213.90 A4.71,4.71 0 0 0 968.71,213.90 Q968.93,212.80 970.13,212.80 L1015.97,212.80 Q1017.17,212.80 1017.39,213.90 A4.71,4.71 0 0 0 1026.61,213.90 Q1026.83,212.80 1028.03,212.80 L1042.28,212.80 A4.72,4.72 0 0 0 1047.00,217.52 L1047.00,242.24 L1044.81,243.89 L1044.81,253.10 L1047.00,254.75 L1047.00,282.72 L1044.81,284.37 L1044.81,293.58 L1047.00,295.23 L1047.00,320.28 A4.72,4.72 0 0 0 1042.28,325.00 L1028.03,325.00 Q1026.83,325.00 1026.61,323.90 A4.71,4.71 0 0 0 1017.39,323.90 Q1017.17,325.00 1015.97,325.00 L970.13,325.00 Q968.93,325.00 968.71,323.90 A4.71,4.71 0 0 0 959.49,323.90 Q959.27,325.00 958.07,325.00 L912.03,325.00 Q910.83,325.00 910.61,323.90 A4.71,4.71 0 0 0 901.39,323.90 Q901.17,325.00 899.97,325.00 L885.72,325.00 A4.72,4.72 0 0 0 881.00,320.28 L881.00,295.23 L883.19,293.58 L883.19,284.37 L881.00,282.72 L881.00,254.75 L883.19,253.10 L883.19,243.89 L881.00,242.24 Z" fill="none" stroke="#777" stroke-width="0.7" stroke-dasharray="3 1.6"/>
<path clip-path="url(#cp9)" d="M865.21,241.40 L892.50,214.10 M869.61,241.40 L896.91,214.10 M874.01,241.40 L901.31,214.10 M878.41,241.40 L905.71,214.10 M882.81,241.40 L910.11,214.10 M887.21,241.40 L914.51,214.10 M891.61,241.40 L918.91,214.10 M896.01,241.40 L923.31,214.10 M900.41,241.40 L927.71,214.10 M904.81,241.40 L932.11,214.10 M909.21,241.40 L936.51,214.10 M913.61,241.40 L940.91,214.10 M918.01,241.40 L945.31,214.10" fill="none" stroke="#666" stroke-width="0.75"/>
<path d="M890.00,215.10 L922.00,215.10 L922.00,240.40 L890.00,240.40 Z" fill="none" stroke="#777" stroke-width="0.6" stroke-dasharray="2.5 1.5"/>
<path clip-path="url(#cp10)" d="M866.61,324.40 L892.51,298.50 M871.01,324.40 L896.91,298.50 M875.41,324.40 L901.31,298.50 M879.81,324.40 L905.71,298.50 M884.21,324.40 L910.11,298.50 M888.61,324.40 L914.51,298.50 M893.01,324.40 L918.91,298.50 M897.41,324.40 L923.31,298.50 M901.81,324.40 L927.71,298.50 M906.21,324.40 L932.11,298.50 M910.61,324.40 L936.51,298.50 M915.01,324.40 L940.91,298.50 M919.41,324.40 L945.31,298.50" fill="none" stroke="#666" stroke-width="0.75"/>
<path d="M890.00,299.50 L913.00,299.50 L922.00,311.00 L922.00,323.40 L890.00,323.40 Z" fill="none" stroke="#777" stroke-width="0.6" stroke-dasharray="2.5 1.5"/>
<path clip-path="url(#cp11)" d="M923.30,241.40 L950.60,214.10 M927.71,241.40 L955.00,214.10 M932.11,241.40 L959.41,214.10 M936.51,241.40 L963.81,214.10 M940.91,241.40 L968.21,214.10 M945.31,241.40 L972.61,214.10 M949.71,241.40 L977.01,214.10 M954.11,241.40 L981.41,214.10 M958.51,241.40 L985.81,214.10 M962.91,241.40 L990.21,214.10 M967.31,241.40 L994.61,214.10 M971.71,241.40 L999.01,214.10 M976.11,241.40 L1003.41,214.10" fill="none" stroke="#666" stroke-width="0.75"/>
<path d="M948.11,215.10 L980.10,215.10 L980.10,240.40 L948.11,240.40 Z" fill="none" stroke="#777" stroke-width="0.6" stroke-dasharray="2.5 1.5"/>
<path clip-path="url(#cp12)" d="M924.71,324.40 L950.61,298.50 M929.11,324.40 L955.01,298.50 M933.51,324.40 L959.41,298.50 M937.91,324.40 L963.81,298.50 M942.31,324.40 L968.21,298.50 M946.71,324.40 L972.61,298.50 M951.11,324.40 L977.01,298.50 M955.51,324.40 L981.41,298.50 M959.91,324.40 L985.81,298.50 M964.31,324.40 L990.21,298.50 M968.71,324.40 L994.61,298.50 M973.11,324.40 L999.01,298.50 M977.51,324.40 L1003.41,298.50" fill="none" stroke="#666" stroke-width="0.75"/>
<path d="M948.11,299.50 L980.10,299.50 L980.10,323.40 L948.11,323.40 Z" fill="none" stroke="#777" stroke-width="0.6" stroke-dasharray="2.5 1.5"/>
<path clip-path="url(#cp13)" d="M981.21,241.40 L1008.50,214.10 M985.61,241.40 L1012.91,214.10 M990.01,241.40 L1017.31,214.10 M994.41,241.40 L1021.71,214.10 M998.81,241.40 L1026.11,214.10 M1003.21,241.40 L1030.51,214.10 M1007.61,241.40 L1034.91,214.10 M1012.01,241.40 L1039.31,214.10 M1016.41,241.40 L1043.71,214.10 M1020.81,241.40 L1048.11,214.10 M1025.21,241.40 L1052.51,214.10 M1029.61,241.40 L1056.91,214.10 M1034.01,241.40 L1061.31,214.10" fill="none" stroke="#666" stroke-width="0.75"/>
<path d="M1006.00,215.10 L1037.99,215.10 L1037.99,240.40 L1006.00,240.40 Z" fill="none" stroke="#777" stroke-width="0.6" stroke-dasharray="2.5 1.5"/>
<path clip-path="url(#cp14)" d="M982.61,324.40 L1008.51,298.50 M987.01,324.40 L1012.91,298.50 M991.41,324.40 L1017.31,298.50 M995.81,324.40 L1021.71,298.50 M1000.21,324.40 L1026.11,298.50 M1004.61,324.40 L1030.51,298.50 M1009.01,324.40 L1034.91,298.50 M1013.41,324.40 L1039.31,298.50 M1017.81,324.40 L1043.71,298.50 M1022.21,324.40 L1048.11,298.50 M1026.61,324.40 L1052.51,298.50 M1031.01,324.40 L1056.91,298.50 M1035.41,324.40 L1061.31,298.50" fill="none" stroke="#666" stroke-width="0.75"/>
<path d="M1006.00,299.50 L1037.99,299.50 L1037.99,323.40 L1006.00,323.40 Z" fill="none" stroke="#777" stroke-width="0.6" stroke-dasharray="2.5 1.5"/>
<path d="M899.50,211.90 L899.97,212.80 Q901.17,212.80 901.39,213.90 A4.71,4.71 0 0 0 910.61,213.90 Q910.83,212.80 912.03,212.80 L912.50,211.90 Z" fill="#fff" stroke="none"/>
<path d="M899.97,212.80 Q901.17,212.80 901.39,213.90 A4.71,4.71 0 0 0 910.61,213.90 Q910.83,212.80 912.03,212.80 " fill="none" stroke="#777" stroke-width="0.6" stroke-dasharray="2.5 1.5"/>
<path d="M899.50,325.90 L899.97,325.00 Q901.17,325.00 901.39,323.90 A4.71,4.71 0 0 1 910.61,323.90 Q910.83,325.00 912.03,325.00 L912.50,325.90 Z" fill="#fff" stroke="none"/>
<path d="M899.97,325.00 Q901.17,325.00 901.39,323.90 A4.71,4.71 0 0 1 910.61,323.90 Q910.83,325.00 912.03,325.00 " fill="none" stroke="#777" stroke-width="0.6" stroke-dasharray="2.5 1.5"/>
<path d="M957.60,211.90 L958.07,212.80 Q959.27,212.80 959.49,213.90 A4.71,4.71 0 0 0 968.71,213.90 Q968.93,212.80 970.13,212.80 L970.60,211.90 Z" fill="#fff" stroke="none"/>
<path d="M958.07,212.80 Q959.27,212.80 959.49,213.90 A4.71,4.71 0 0 0 968.71,213.90 Q968.93,212.80 970.13,212.80 " fill="none" stroke="#777" stroke-width="0.6" stroke-dasharray="2.5 1.5"/>
<path d="M957.60,325.90 L958.07,325.00 Q959.27,325.00 959.49,323.90 A4.71,4.71 0 0 1 968.71,323.90 Q968.93,325.00 970.13,325.00 L970.60,325.90 Z" fill="#fff" stroke="none"/>
<path d="M958.07,325.00 Q959.27,325.00 959.49,323.90 A4.71,4.71 0 0 1 968.71,323.90 Q968.93,325.00 970.13,325.00 " fill="none" stroke="#777" stroke-width="0.6" stroke-dasharray="2.5 1.5"/>
<path d="M1015.50,211.90 L1015.97,212.80 Q1017.17,212.80 1017.39,213.90 A4.71,4.71 0 0 0 1026.61,213.90 Q1026.83,212.80 1028.03,212.80 L1028.50,211.90 Z" fill="#fff" stroke="none"/>
<path d="M1015.97,212.80 Q1017.17,212.80 1017.39,213.90 A4.71,4.71 0 0 0 1026.61,213.90 Q1026.83,212.80 1028.03,212.80 " fill="none" stroke="#777" stroke-width="0.6" stroke-dasharray="2.5 1.5"/>
<path d="M1015.50,325.90 L1015.97,325.00 Q1017.17,325.00 1017.39,323.90 A4.71,4.71 0 0 1 1026.61,323.90 Q1026.83,325.00 1028.03,325.00 L1028.50,325.90 Z" fill="#fff" stroke="none"/>
<path d="M1015.97,325.00 Q1017.17,325.00 1017.39,323.90 A4.71,4.71 0 0 1 1026.61,323.90 Q1026.83,325.00 1028.03,325.00 " fill="none" stroke="#777" stroke-width="0.6" stroke-dasharray="2.5 1.5"/>
<rect x="885.30" y="198.5" width="41.4" height="45.6" fill="none" stroke="#000" stroke-width="1.4"/>
<rect x="885.30" y="294.3" width="41.4" height="45.6" fill="none" stroke="#000" stroke-width="1.4"/>
<rect x="943.40" y="198.5" width="41.4" height="45.6" fill="none" stroke="#000" stroke-width="1.4"/>
<rect x="943.40" y="294.3" width="41.4" height="45.6" fill="none" stroke="#000" stroke-width="1.4"/>
<rect x="1001.30" y="198.5" width="41.4" height="45.6" fill="none" stroke="#000" stroke-width="1.4"/>
<rect x="1001.30" y="294.3" width="41.4" height="45.6" fill="none" stroke="#000" stroke-width="1.4"/>
<line x1="876.90" y1="268.50" x2="1052.80" y2="268.50" stroke="#444" stroke-width="0.65" stroke-dasharray="34 3 6 3"/>
<line x1="964.50" y1="156.40" x2="964.50" y2="188.50" stroke="#444" stroke-width="0.65"/>
<line x1="964.50" y1="191.70" x2="964.50" y2="346.00" stroke="#444" stroke-width="0.65" stroke-dasharray="60 3 6 3"/>
<line x1="906.50" y1="156.40" x2="906.50" y2="186.30" stroke="#444" stroke-width="0.65"/>
<line x1="906.50" y1="190.60" x2="906.50" y2="250.40" stroke="#444" stroke-width="0.65"/>
<line x1="906.50" y1="287.60" x2="906.50" y2="344.70" stroke="#444" stroke-width="0.65"/>
<line x1="1022.50" y1="156.40" x2="1022.50" y2="186.30" stroke="#444" stroke-width="0.65"/>
<line x1="1022.50" y1="190.60" x2="1022.50" y2="250.40" stroke="#444" stroke-width="0.65"/>
<line x1="1022.50" y1="287.60" x2="1022.50" y2="344.70" stroke="#444" stroke-width="0.65"/>
<line x1="876.70" y1="221.50" x2="932.50" y2="221.50" stroke="#444" stroke-width="0.65"/>
<line x1="876.70" y1="317.50" x2="932.50" y2="317.50" stroke="#444" stroke-width="0.65"/>
<line x1="939.50" y1="221.50" x2="989.50" y2="221.50" stroke="#444" stroke-width="0.65"/>
<line x1="939.50" y1="317.50" x2="989.50" y2="317.50" stroke="#444" stroke-width="0.65"/>
<line x1="996.50" y1="221.50" x2="1049.00" y2="221.50" stroke="#444" stroke-width="0.65"/>
<line x1="996.50" y1="317.50" x2="1049.00" y2="317.50" stroke="#444" stroke-width="0.65"/>
<line x1="906.00" y1="171.50" x2="1022.00" y2="171.50" stroke="#444" stroke-width="0.7"/>
<polygon points="906.00,171.60 913.20,170.55 913.20,172.65" fill="#444"/>
<polygon points="964.10,171.60 956.90,172.65 956.90,170.55" fill="#444"/>
<polygon points="964.10,171.60 971.30,170.55 971.30,172.65" fill="#444"/>
<polygon points="1022.00,171.60 1014.80,172.65 1014.80,170.55" fill="#444"/>
<text id="t64" x="925.48" y="169.10" font-size="11" textLength="20.55" lengthAdjust="spacingAndGlyphs" fill="#111">2.54</text>
<text id="t65" x="983.48" y="169.10" font-size="11" textLength="20.55" lengthAdjust="spacingAndGlyphs" fill="#111">2.54</text>
<line x1="846.70" y1="221.50" x2="874.50" y2="221.50" stroke="#444" stroke-width="0.7"/>
<line x1="846.70" y1="317.50" x2="873.50" y2="317.50" stroke="#444" stroke-width="0.7"/>
<line x1="853.50" y1="221.20" x2="853.50" y2="317.20" stroke="#444" stroke-width="0.7"/>
<polygon points="853.70,221.20 854.75,228.40 852.65,228.40" fill="#444"/>
<polygon points="853.70,317.20 852.65,310.00 854.75,310.00" fill="#444"/>
<text id="t66" x="849.80" y="279.05" font-size="11" textLength="15.59" lengthAdjust="spacingAndGlyphs" transform="rotate(-90 849.80 279.05)" fill="#111">4.2</text>
<line x1="885.50" y1="340.00" x2="885.50" y2="364.50" stroke="#444" stroke-width="0.7"/>
<line x1="926.50" y1="340.00" x2="926.50" y2="364.50" stroke="#444" stroke-width="0.7"/>
<line x1="885.40" y1="362.50" x2="926.80" y2="362.50" stroke="#444" stroke-width="0.7"/>
<polygon points="885.40,362.70 892.60,361.65 892.60,363.75" fill="#444"/>
<polygon points="926.80,362.70 919.60,363.75 919.60,361.65" fill="#444"/>
<text id="t67" x="899.43" y="359.80" font-size="11" textLength="14.55" lengthAdjust="spacingAndGlyphs" fill="#111">1.8</text>
<line x1="1044.70" y1="294.50" x2="1075.50" y2="294.50" stroke="#444" stroke-width="0.7"/>
<line x1="1044.70" y1="339.50" x2="1075.50" y2="339.50" stroke="#444" stroke-width="0.7"/>
<line x1="1072.50" y1="294.20" x2="1072.50" y2="339.90" stroke="#444" stroke-width="0.7"/>
<polygon points="1072.70,294.20 1073.75,301.40 1071.65,301.40" fill="#444"/>
<polygon points="1072.70,339.90 1071.65,332.70 1073.75,332.70" fill="#444"/>
<text id="t68" x="1069.30" y="323.05" font-size="11" textLength="13.59" lengthAdjust="spacingAndGlyphs" transform="rotate(-90 1069.30 323.05)" fill="#111">2.0</text>
</svg>
</body>
</html>
